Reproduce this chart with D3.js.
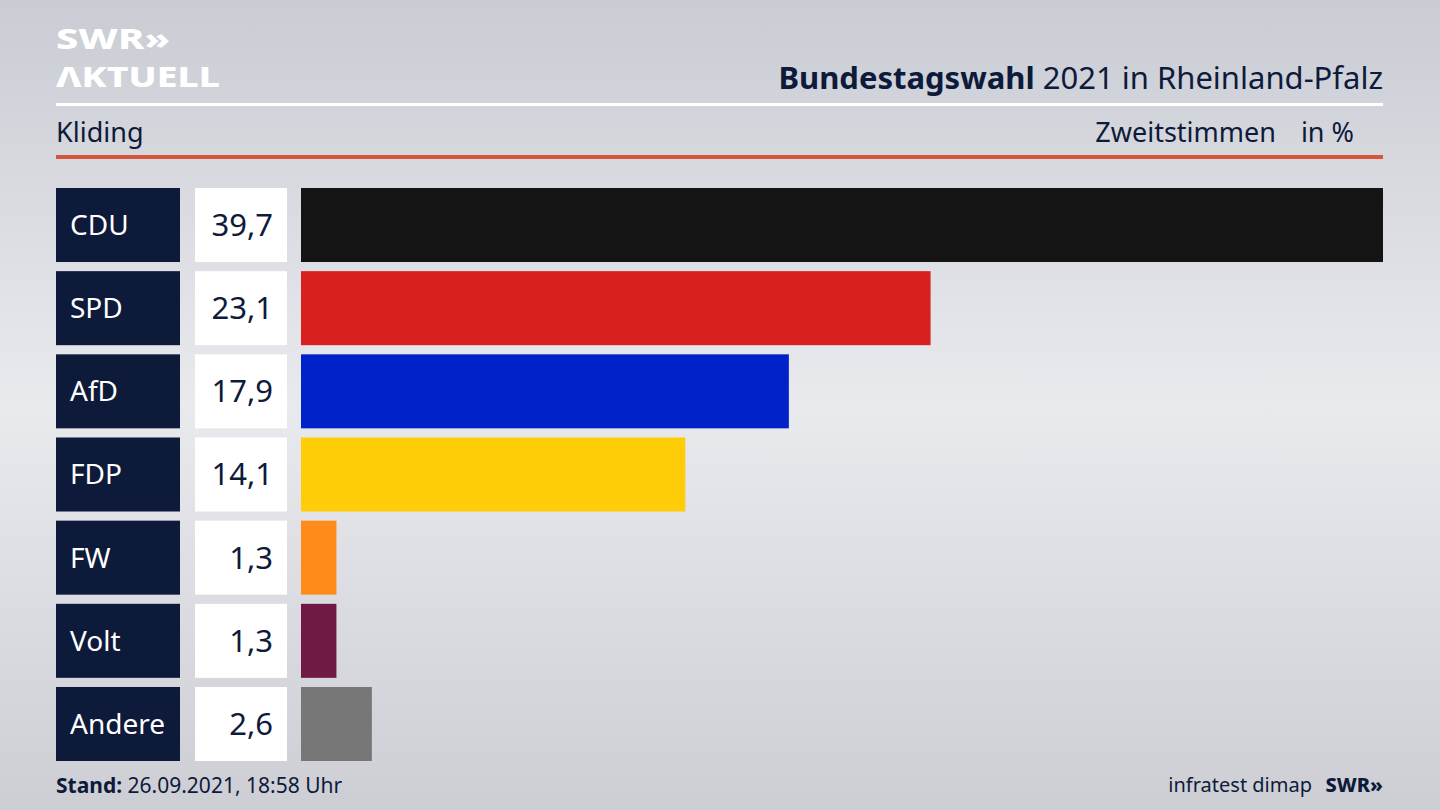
<!DOCTYPE html>
<html><head><meta charset="utf-8">
<script src="https://cdn.jsdelivr.net/npm/d3@7"></script>
<style>body{margin:0;overflow:hidden}svg{display:block;font-family:"Noto Sans",sans-serif}</style>
</head><body><div id="chart"></div>
<script>
// Daten
var parties = ["CDU", "SPD", "AfD", "FDP", "FW", "Volt", "Andere"];
var values = [39.7, 23.1, 17.9, 14.1, 1.3, 1.3, 2.6];
var colors = ["#141414", "#d92020", "#0022c8", "#ffcc08", "#ff8c1a", "#6e1a44", "#777777"];

var width = 1440, height = 810, navy = "#0e1a3a";
var svg = d3.select("#chart").append("svg").attr("width", width).attr("height", height);

var defs = svg.append("defs");
var grad = defs.append("linearGradient").attr("id", "bg").attr("x1", 0).attr("y1", 0).attr("x2", 0).attr("y2", 1);
grad.append("stop").attr("offset", "0").attr("stop-color", "#c9ccd3");
grad.append("stop").attr("offset", "0.5").attr("stop-color", "#e9eaee");
grad.append("stop").attr("offset", "1").attr("stop-color", "#ccced4");
svg.append("rect").attr("width", width).attr("height", height).attr("fill", "url(#bg)");

// Logo
svg.append("text").attr("x", 56).attr("y", 49).attr("fill", "#fff").attr("font-size", 29).attr("font-weight", 800)
  .attr("textLength", 114).attr("lengthAdjust", "spacingAndGlyphs").text("SWR»");
svg.append("text").attr("x", 56).attr("y", 87).attr("fill", "#fff").attr("font-size", 29).attr("font-weight", 800)
  .attr("textLength", 164).attr("lengthAdjust", "spacingAndGlyphs").text("ΛKTUELL");

// Kopf
var title = svg.append("text").attr("x", 1383).attr("y", 89).attr("text-anchor", "end").attr("fill", navy).attr("font-size", 31);
title.append("tspan").attr("font-weight", 700).text("Bundestagswahl");
title.append("tspan").text(" 2021 in Rheinland-Pfalz");
svg.append("rect").attr("x", 56).attr("y", 103).attr("width", 1327).attr("height", 3).attr("fill", "#fff");
svg.append("text").attr("x", 56).attr("y", 142).attr("fill", navy).attr("font-size", 27).text("Kliding");
svg.append("text").attr("x", 1276).attr("y", 142).attr("text-anchor", "end").attr("fill", navy).attr("font-size", 27).text("Zweitstimmen");
svg.append("text").attr("x", 1354).attr("y", 142).attr("text-anchor", "end").attr("fill", navy).attr("font-size", 27).text("in %");
svg.append("rect").attr("x", 56).attr("y", 155).attr("width", 1327).attr("height", 4).attr("fill", "#d4553b");

// Skalen
var y = d3.scaleBand().domain(parties).range([188, 761]).paddingInner(0.11).paddingOuter(0);
var x = d3.scaleLinear().domain([0, d3.max(values)]).range([301, 1383]);
var data = parties.map(function(p, i) { return {party: p, value: values[i], color: colors[i]}; });

var row = svg.selectAll(".row").data(data).enter().append("g").attr("class", "row")
  .attr("transform", function(d) { return "translate(0," + y(d.party) + ")"; });
row.append("rect").attr("x", 56).attr("width", 124).attr("height", y.bandwidth()).attr("fill", navy);
row.append("text").attr("x", 70).attr("y", y.bandwidth() / 2 + 10).attr("fill", "#fff").attr("font-size", 28)
  .text(function(d) { return d.party; });
row.append("rect").attr("x", 195).attr("width", 92).attr("height", y.bandwidth()).attr("fill", "#fff");
row.append("text").attr("x", 273).attr("y", y.bandwidth() / 2 + 11).attr("text-anchor", "end").attr("fill", navy)
  .attr("font-size", 31).text(function(d) { return d3.format(".1f")(d.value).replace(".", ","); });
row.append("rect").attr("x", x(0)).attr("width", function(d) { return x(d.value) - x(0); })
  .attr("height", y.bandwidth()).attr("fill", function(d) { return d.color; });

// Fuß
var foot = svg.append("text").attr("x", 56).attr("y", 793).attr("fill", navy).attr("font-size", 21);
foot.append("tspan").attr("font-weight", 700).text("Stand:");
foot.append("tspan").text(" 26.09.2021, 18:58 Uhr");
svg.append("text").attr("x", 1312).attr("y", 792).attr("text-anchor", "end").attr("fill", navy).attr("font-size", 20).text("infratest dimap");
svg.append("text").attr("x", 1383).attr("y", 792).attr("text-anchor", "end").attr("fill", navy).attr("font-size", 20)
  .attr("font-weight", 800).text("SWR»");
</script></body></html>
